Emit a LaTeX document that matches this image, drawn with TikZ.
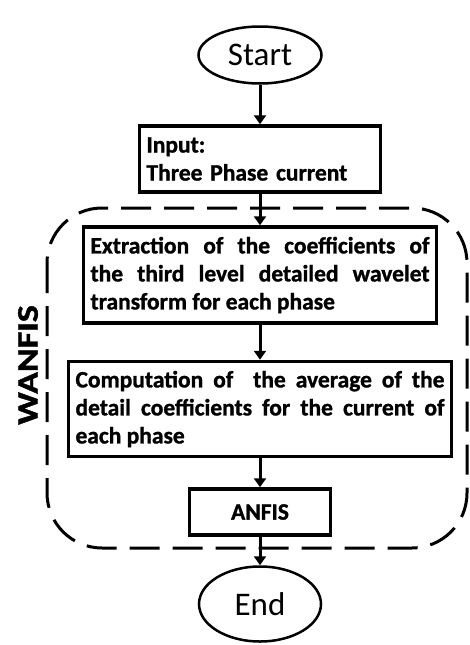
\documentclass[tikz,border=0pt]{standalone}
\usepackage{fontspec}
\setmainfont{Carlito}[BoldFeatures={FakeBold=1.2}]
\usetikzlibrary{arrows.meta,shapes.geometric}
\tikzset{
  procbox/.style={draw, line width=3.5pt, inner xsep=7pt, inner ysep=3pt,
    font=\bfseries\fontsize{23.5}{28}\selectfont},
  termnode/.style={draw, ellipse, line width=2.5pt, inner sep=0pt,
    font=\fontsize{33}{33}\selectfont},
  flowline/.style={line width=3pt, -{Triangle[length=9pt,width=12pt]}}
}
\begin{document}
\begin{tikzpicture}[x=1pt,y=-1pt]
\useasboundingbox (0,0) rectangle (469,645);
% dashed frame round the WANFIS stages
\draw[line width=3pt, dash pattern=on 30pt off 13pt, rounded corners=55pt] (47,208) rectangle (467,548);
\node[rotate=90, xscale=1.2, font=\bfseries\fontsize{30}{30}\selectfont] (wanfis) at (28,365) {WANFIS};

\node[termnode, minimum width=123pt, minimum height=57pt] (start) at (260,55) {Start};
\node[procbox, text width=227pt, minimum height=66pt, align=left] (input) at (260,159) {Input:\\Three Phase current};
\node[procbox, text width=339pt, minimum height=96pt, align=justify] (extract) at (260,275)
  {Extraction of the coefficients of\linebreak the third level detailed wavelet\linebreak transform for each phase};
\node[procbox, text width=369pt, minimum height=95pt, align=justify] (average) at (260,409)
  {Computation of \ the average of the\linebreak detail coefficients for the current of\linebreak each phase};
\node[procbox, minimum width=141pt, minimum height=46pt, align=center] (anfis) at (260,512) {ANFIS};
\node[termnode, minimum width=122pt, minimum height=75pt] (end) at (260,604) {End};

% arrows between the stages
\draw[flowline] (start) -- (input);
\draw[flowline] (input) -- (extract);
\draw[flowline] (extract) -- (average);
\draw[flowline] (average) -- (anfis);
\draw[flowline] (anfis) -- (end);
\end{tikzpicture}
\end{document}
